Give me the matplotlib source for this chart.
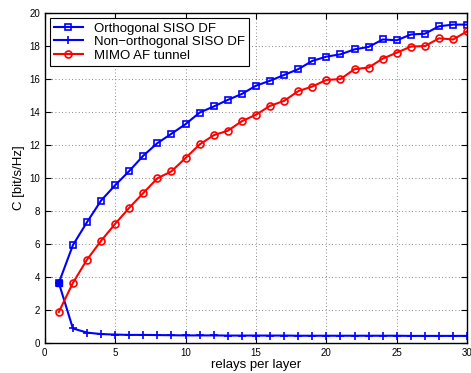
import numpy as np
import matplotlib.pyplot as plt

plt.rcParams['font.family'] = ['Liberation Sans', 'DejaVu Sans']

# Data
relays = list(range(1, 31))
orthogonal = [3.65, 5.94, 7.33, 8.64, 9.57, 10.43, 11.36, 12.12, 12.69, 13.27,
              13.97, 14.34, 14.74, 15.1, 15.6, 15.9, 16.25, 16.6, 17.1, 17.36,
              17.5, 17.8, 17.95, 18.4, 18.35, 18.7, 18.75, 19.2, 19.3, 19.3]
non_orthogonal = [3.65, 0.89, 0.64, 0.55, 0.52, 0.5, 0.5, 0.49, 0.48, 0.47,
                  0.47, 0.47, 0.46, 0.46, 0.46, 0.46, 0.46, 0.45, 0.45, 0.45,
                  0.45, 0.45, 0.45, 0.45, 0.45, 0.44, 0.44, 0.44, 0.44, 0.44]
mimo_af = [1.89, 3.65, 5.06, 6.2, 7.23, 8.2, 9.1, 9.99, 10.41, 11.22,
           12.04, 12.6, 12.87, 13.45, 13.84, 14.38, 14.68, 15.27, 15.55, 15.95,
           16.0, 16.6, 16.7, 17.24, 17.6, 17.97, 18.0, 18.47, 18.4, 18.9]

fig = plt.figure(figsize=(4.71, 3.73), dpi=100)
ax = fig.add_axes([0.095, 0.08, 0.897, 0.885])

ax.plot(relays, orthogonal, color='blue', lw=1.5, marker='s', ms=4.5,
        mfc='none', mew=1.2, label='Orthogonal SISO DF')
ax.plot(relays, non_orthogonal, color='blue', lw=1.5, marker='+', ms=6,
        mew=1.2, label='Non\u2212orthogonal SISO DF')
ax.plot(relays, mimo_af, color='red', lw=1.5, marker='o', ms=5,
        mfc='none', mew=1.2, label='MIMO AF tunnel')
# filled square at x=1 like the reference
ax.plot(relays[:1], orthogonal[:1], color='blue', marker='s', ms=5, ls='none')

ax.set_xlim(0, 30)
ax.set_ylim(0, 20)
ax.set_xticks(np.arange(0, 31, 5))
ax.set_yticks(np.arange(0, 21, 2))
ax.tick_params(direction='in', top=True, right=True, labelsize=7, length=4)
ax.grid(True, color='#606060', linestyle=(0, (1, 3)), linewidth=0.6)
ax.set_xlabel('relays per layer', fontsize=9.5, labelpad=1)
ax.set_ylabel('C [bit/s/Hz]', fontsize=9.5, labelpad=3)
for s in ax.spines.values():
    s.set_linewidth(1.0)

leg = ax.legend(loc='upper left', fontsize=9.5, fancybox=False, edgecolor='black',
                framealpha=1, borderaxespad=0.4, handlelength=2.2,
                borderpad=0.3, labelspacing=0.1)
leg.get_frame().set_linewidth(0.8)

fig.savefig('out.png', dpi=100)
